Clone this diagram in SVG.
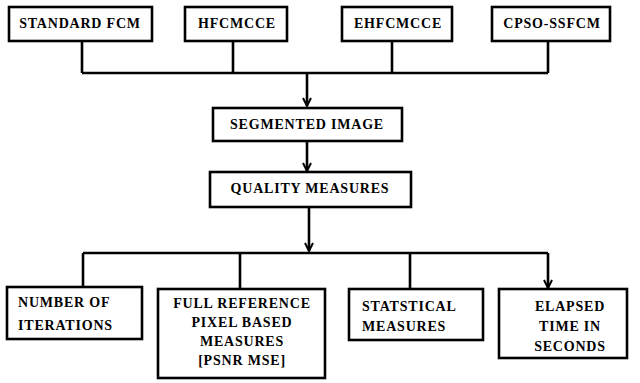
<svg xmlns="http://www.w3.org/2000/svg" width="640" height="383" viewBox="0 0 640 383">
<defs>
<style>
.box{fill:#fff;stroke:#000;stroke-width:2.6}
.t{font-family:"Liberation Serif","Times New Roman","DejaVu Serif",serif;font-weight:bold;font-size:14px;letter-spacing:0.8px;fill:#000}
.c{text-anchor:middle}
.ln{fill:none;stroke:#000;stroke-width:2.6}
</style>
<marker id="ah" viewBox="0 0 10 10" refX="9" refY="5" markerWidth="10" markerHeight="10" markerUnits="userSpaceOnUse" orient="auto">
<polyline points="1,1 9,5 1,9" fill="none" stroke="#000" stroke-width="2"/>
</marker>
</defs>
<rect width="640" height="383" fill="#fff"/>
<g id="connectors">
<path class="ln" d="M82,41 V73 M233,41 V73 M392,41 V73 M548,41 V73 M82,73 H548"/>
<path class="ln" d="M307,73 V106" marker-end="url(#ah)"/>
<path class="ln" d="M307,141 V171" marker-end="url(#ah)"/>
<path class="ln" d="M309,207 V251" marker-end="url(#ah)"/>
<path class="ln" d="M83,253 H548 M83,253 V287 M240,253 V289 M410,253 V289"/>
<path class="ln" d="M548,253 V288" marker-end="url(#ah)"/>
</g>
<g id="n1"><rect class="box" x="9" y="7" width="143" height="34"/><text class="t c" x="80" y="28">STANDARD FCM</text></g>
<g id="n2"><rect class="box" x="185" y="7" width="102" height="34"/><text class="t c" x="237" y="28">HFCMCCE</text></g>
<g id="n3"><rect class="box" x="342" y="7" width="110" height="34"/><text class="t c" x="398" y="28">EHFCMCCE</text></g>
<g id="n4"><rect class="box" x="492" y="7" width="118" height="34"/><text class="t c" x="552" y="28">CPSO-SSFCM</text></g>
<g id="n5"><rect class="box" x="213" y="108" width="189" height="33"/><text class="t c" x="307" y="129">SEGMENTED IMAGE</text></g>
<g id="n6"><rect class="box" x="210" y="172" width="201" height="35"/><text class="t c" x="310" y="193">QUALITY MEASURES</text></g>
<g id="n7"><rect class="box" x="7" y="287" width="135" height="52"/><text class="t" x="18" y="307">NUMBER OF</text><text class="t" x="18" y="330">ITERATIONS</text></g>
<g id="n8"><rect class="box" x="158" y="289" width="167" height="89"/><text class="t c" x="242" y="308">FULL REFERENCE</text><text class="t c" x="242" y="327">PIXEL BASED</text><text class="t c" x="242" y="346">MEASURES</text><text class="t c" x="242" y="365">[PSNR MSE]</text></g>
<g id="n9"><rect class="box" x="349" y="289" width="134" height="51"/><text class="t" x="362" y="311">STATSTICAL</text><text class="t" x="362" y="331">MEASURES</text></g>
<g id="n10"><rect class="box" x="499" y="289" width="128" height="69"/><text class="t c" x="570" y="311">ELAPSED</text><text class="t c" x="570" y="331">TIME IN</text><text class="t c" x="570" y="351">SECONDS</text></g>
</svg>
